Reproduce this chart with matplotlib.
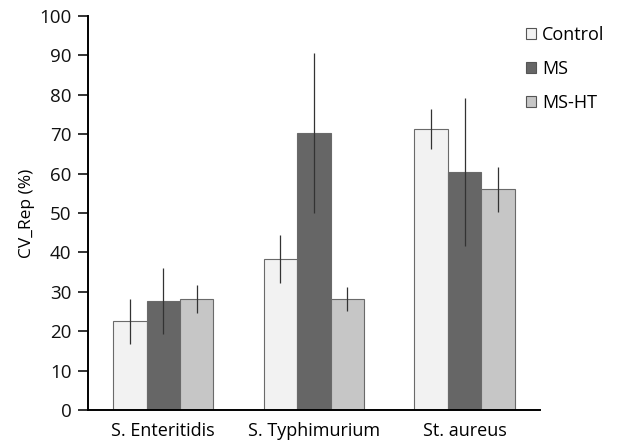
import matplotlib
matplotlib.use("Agg")
import matplotlib.pyplot as plt
import numpy as np
from matplotlib.patches import Patch

categories = ["S. Enteritidis", "S. Typhimurium", "St. aureus"]
series = ["Control", "MS", "MS-HT"]
control = [22.5, 38.3, 71.3]
ms = [27.7, 70.3, 60.3]
msht = [28.2, 28.2, 56.0]
control_err = [5.7, 6.1, 5.0]
ms_err = [8.3, 20.4, 18.8]
msht_err = [3.5, 3.1, 5.7]
yticks = [0, 10, 20, 30, 40, 50, 60, 70, 80, 90, 100]

plt.rcParams['font.family'] = ['Open Sans', 'DejaVu Sans']

fig = plt.figure(figsize=(6.17, 4.47), dpi=100)
ax = fig.add_axes([0.1426, 0.0828, 0.7324, 0.8814])

colors = ["#f2f2f2", "#666666", "#c6c6c6"]
vals = [control, ms, msht]
errs = [control_err, ms_err, msht_err]
w = 0.222
x = np.arange(len(categories))
for i, (v, e, c) in enumerate(zip(vals, errs, colors)):
    ax.bar(x + (i - 1) * w, v, width=w, color=c, edgecolor="#6a6a6a", linewidth=0.8, zorder=2)
    ax.errorbar(x + (i - 1) * w, v, yerr=e, fmt='none', ecolor="#333333", elinewidth=0.9, capsize=0, zorder=3)

ax.set_xlim(-0.5, 2.5)
ax.set_ylim(0, 100)
ax.set_yticks(yticks)
ax.set_xticks(x)
ax.set_xticklabels(categories, fontsize=13)
ax.tick_params(axis='x', length=0, pad=9)
ax.tick_params(axis='y', labelsize=13.5, length=7, width=1.2, direction='out', pad=5, colors='#111111')
for s in ['top', 'right']:
    ax.spines[s].set_visible(False)
ax.spines['left'].set_linewidth(1.4)
ax.spines['bottom'].set_linewidth(1.4)
ax.set_ylabel("CV_Rep (%)", fontsize=12.5, labelpad=3)

handles = [Patch(facecolor=c, edgecolor="#555555", linewidth=0.8, label=s) for s, c in zip(series, colors)]
fig.legend(handles=handles, loc='upper left', bbox_to_anchor=(526 / 617, 1 - 26 / 447), frameon=False,
           fontsize=13, handlelength=0.55, handleheight=0.55, handletextpad=0.35, labelspacing=0.88,
           borderpad=0, borderaxespad=0)

fig.savefig("out.png", dpi=100)
